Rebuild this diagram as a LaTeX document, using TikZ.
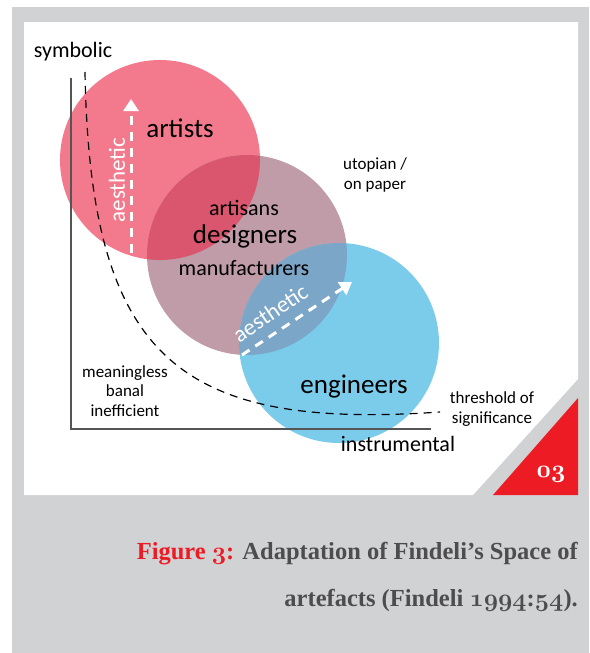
\documentclass[tikz,border=0pt]{standalone}
\usepackage{fontspec}
\newfontfamily\calfont{Carlito}
\newfontfamily\capfont{Liberation Serif}
\usetikzlibrary{arrows.meta}
\newcommand\osnb[1]{{\fontencoding{OML}\fontfamily{cmm}\fontseries{b}\fontshape{it}\selectfont#1}}
\definecolor{bggray}{RGB}{209,210,212}
\definecolor{cred}{RGB}{243,122,140}
\definecolor{cmauve}{RGB}{192,155,168}
\definecolor{cblue}{RGB}{123,203,235}
\definecolor{credmauve}{RGB}{217,86,110}
\definecolor{cmauveblue}{RGB}{124,166,199}
\definecolor{axisgray}{RGB}{85,85,85}
\definecolor{capred}{RGB}{237,28,36}
\definecolor{capgray}{RGB}{77,77,79}
\definecolor{tri}{RGB}{237,28,36}
\tikzset{
  big/.style={font=\calfont\fontsize{27}{30}\selectfont, inner sep=0pt},
  mid/.style={font=\calfont\fontsize{22}{25}\selectfont, inner sep=0pt},
  small/.style={font=\calfont\fontsize{17}{19.5}\selectfont, inner sep=0pt, align=center},
  wlabel/.style={font=\calfont\fontsize{23}{25}\selectfont, inner sep=0pt, text=white},
  axisline/.style={draw=axisgray, line width=1.3pt},
  thresh/.style={draw=black, line width=1.2pt, dash pattern=on 8pt off 6pt},
  aarrow/.style={draw=white, line width=3pt, dash pattern=on 9pt off 7pt, -{Triangle[width=15pt,length=12pt,fill=white]}},
  capline/.style={font=\capfont\bfseries\fontsize{24.5}{27}\selectfont, text=capgray, inner sep=0pt, anchor=base east},
}
\begin{document}
\begin{tikzpicture}[x=1pt,y=-1pt]
\useasboundingbox (0,0) rectangle (589,653);
\fill[white] (0,0) rectangle (589,653);
\fill[bggray] (12,7) rectangle (589,653);
\fill[white] (24,22) -- (578,22) -- (578,379) -- (473,495) -- (24,495) -- cycle;
\fill[tri] (578,398) -- (578,495) -- (493,495) -- cycle;
\node[font=\fontsize{23}{25}\selectfont, text=white, inner sep=0pt] (num) at (551,474) {\osnb{03}};
% circles
\fill[cred] (160,160) circle[radius=100pt];
\fill[cmauve] (247,255) circle[radius=100pt];
\fill[cblue] (339,343) circle[radius=100pt];
\begin{scope}
\clip (160,160) circle[radius=100pt];
\fill[credmauve] (247,255) circle[radius=100pt];
\end{scope}
\begin{scope}
\clip (247,255) circle[radius=100pt];
\fill[cmauveblue] (339,343) circle[radius=100pt];
\end{scope}
% axes
\coordinate (top) at (71,78);
\coordinate (origin) at (71,429);
\coordinate (right) at (431,429);
\draw[axisline] (top) -- (origin) -- (right);
% threshold curve
\coordinate (t0) at (85,72);
\coordinate (t1) at (440,412);
\draw[thresh] (t0) .. controls (90,360) and (180,430) .. (t1);
% arrows
\coordinate (a1s) at (131,253);
\coordinate (a1e) at (131,99);
\draw[aarrow] (a1s) -- (a1e);
\coordinate (a2s) at (242,355);
\coordinate (a2e) at (352,282);
\draw[aarrow] (a2s) -- (a2e);
\node[wlabel, rotate=90] (ae1) at (117,180) {aesthetic};
\node[wlabel, rotate=34] (ae2) at (270,313) {aesthetic};
% labels
\node[mid] (symbolic) at (73,52) {symbolic};
\node[mid] (instrumental) at (398,444) {instrumental};
\node[big] (artists) at (180,128) {artists};
\node[mid] (artisans) at (244,208) {artisans};
\node[big] (designers) at (245,236) {designers};
\node[mid] (manuf) at (244,268) {manufacturers};
\node[big] (engineers) at (354,387) {engineers};
\node[small] (utopian) at (375,175) {utopian /\\on paper};
\node[small] (meaningless) at (125,391) {meaningless\\banal\\inefficient};
\node[small] (threshold) at (492,409) {threshold of\\significance};
% caption
\node[capline] (cap1) at (578,559) {\textcolor{capred}{Figure \osnb{3}:} Adaptation of Findeli’s Space of};
\node[capline] (cap2) at (578,606) {artefacts (Findeli \osnb{1994}:\osnb{54}).};
\end{tikzpicture}
\end{document}
